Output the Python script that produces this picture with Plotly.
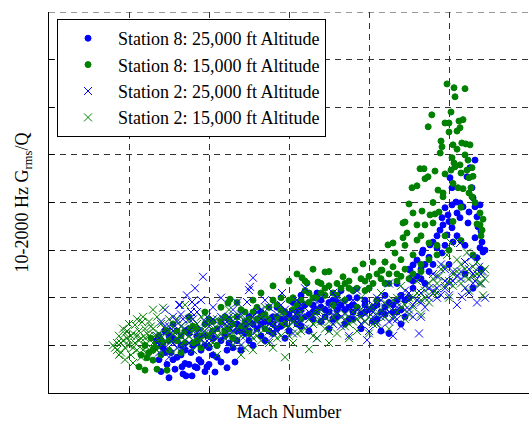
import plotly.graph_objects as go

# Mach number / 10-2000 Hz Grms/Q readings (arbitrary response units)
s8_25k = [
    (0.27,1.1),(0.275,0.7),(0.28,0.45),(0.285,0.95),(0.29,1.3),(0.295,0.6),(0.30,0.32),(0.305,0.85),
    (0.31,1.15),(0.315,0.5),(0.32,0.75),(0.33,1.0),(0.335,0.4),(0.3325,0.55),(0.34,0.62),(0.3425,0.36),
    (0.35,1.25),(0.355,0.85),(0.3575,0.36),(0.365,0.55),(0.37,1.05),(0.37,0.53),(0.375,0.7),(0.38,0.9),
    (0.39,0.45),(0.395,1.2),(0.395,0.55),(0.40,0.6),(0.41,0.8),(0.415,0.44),(0.42,1.0),(0.43,0.65),
    (0.44,1.3),(0.445,0.53),(0.445,0.9),(0.465,0.65),(0.46,1.15),(0.47,1.45),(0.48,0.9),(0.49,1.25),
    (0.50,1.6),(0.51,1.0),(0.52,1.35),(0.53,1.7),(0.54,1.1),(0.55,1.5),(0.56,1.25),(0.57,1.8),
    (0.58,1.4),(0.59,1.15),(0.60,1.65),(0.61,1.9),(0.62,1.45),(0.63,2.05),(0.64,1.6),(0.65,1.3),
    (0.66,1.85),(0.67,2.1),(0.68,1.5),(0.69,1.75),(0.70,1.35),(0.71,1.95),(0.72,1.6),(0.73,2.15),
    (0.74,1.45),(0.75,1.8),(0.76,1.55),(0.77,2.0),(0.78,1.35),(0.79,1.7),(0.80,2.2),(0.81,1.5),
    (0.82,1.85),(0.83,1.3),(0.84,2.05),(0.85,1.25),(0.86,1.7),(0.87,2.3),(0.88,1.45),(0.89,1.95),
    (0.90,2.6),(0.9025,2.58),(0.91,2.69),(0.92,2.79),(0.9325,2.94),(0.935,3.00),(0.9525,3.11),(0.96,3.17),
    (0.97,3.05),(0.9825,2.94),(0.9775,3.42),(0.985,3.53),(0.9825,3.68),(0.9975,3.74),(0.99,3.89),(0.995,3.32),
    (1.0075,3.47),(1.01,3.17),(1.02,3.78),(1.0275,3.68),(1.0075,3.95),(1.0175,4.01),(1.0275,3.99),(1.035,3.91),
    (1.0075,4.31),(1.0025,4.52),(1.045,4.54),(1.0525,4.73),(1.065,4.89),(1.0575,4.31),(1.0475,3.57),(1.065,3.91),
    (1.0775,3.95),(1.0725,3.49),(1.065,3.26),(1.0825,3.17),(1.0775,3.05),(1.085,2.96),(1.07,2.84),(0.94,2.3),
    (0.95,2.55),(1.0,2.7),(1.04,2.5),(1.06,2.2),(1.08,2.6),
    (0.29,0.85),(0.31,0.7),(0.33,0.8),(0.35,0.6),(0.36,1.0),(0.38,0.65),(0.40,0.95),(0.42,0.75),
    (0.43,1.1),(0.45,1.05),(0.47,1.1),(0.48,1.3),(0.50,1.1),(0.51,1.45),(0.53,1.2),(0.54,1.5),
    (0.56,1.6),(0.57,1.35),(0.59,1.55),(0.60,1.3),(0.62,1.7),(0.63,1.4),(0.64,1.85),(0.66,1.55),
    (0.67,1.75),(0.68,1.95),(0.70,1.7),(0.71,1.55),(0.72,1.9),(0.74,1.75),(0.75,1.55),(0.76,1.85),
    (0.78,1.65),(0.79,1.95),(0.81,1.8),(0.82,1.55),(0.84,1.65),(0.85,1.9),(0.87,1.7),(0.88,2.05),
    (0.89,1.6),(0.91,2.2),(0.92,2.45),(0.93,2.6),(0.95,2.85),(0.96,2.7),(0.97,3.3),(0.99,3.1),
    (1.0,3.6),(1.02,3.3),(1.04,3.1),(1.05,3.8),(1.06,4.1),(1.07,3.7),(1.08,3.4),(1.09,3.0),
    (0.28,1.0),(0.30,1.2),(0.32,1.1),(0.34,0.9),(0.37,1.2),(0.39,1.0),(0.41,1.15),(0.44,1.2),
    (0.46,0.95),(0.47,1.3),(0.49,1.4),(0.50,1.3),(0.52,1.55),(0.53,1.45),(0.55,1.3),(0.56,1.45),
    (0.58,1.55),(0.59,1.7),(0.61,1.55),(0.62,1.6),(0.63,1.75),(0.65,1.65),(0.66,1.7),(0.68,1.8),
    (0.69,1.6),(0.70,1.9),(0.72,1.75),(0.73,1.85),(0.75,2.0),(0.76,1.7),(0.77,1.8),(0.79,1.85),
    (0.80,1.75),(0.82,1.95),(0.83,1.7),(0.84,1.8),(0.86,1.85),(0.87,1.95),(0.88,1.75),(0.90,2.0),
    (0.91,2.35),(0.93,2.4),(0.94,2.7),
]

s8_15k = [
    (0.225,0.55),(0.23,0.8),(0.24,0.48),(0.24,1.0),(0.245,0.74),(0.25,0.85),(0.255,1.15),(0.26,0.69),
    (0.265,0.95),(0.27,0.5),(0.275,1.2),(0.28,0.8),(0.285,1.05),(0.295,0.48),(0.295,1.3),(0.30,0.9),
    (0.31,1.45),(0.32,1.1),(0.33,0.85),(0.34,1.3),(0.35,1.6),(0.36,1.05),(0.37,1.35),(0.38,0.95),
    (0.39,1.7),(0.40,1.2),(0.41,1.5),(0.42,1.0),(0.43,1.8),(0.44,1.3),(0.4475,1.89),(0.4525,1.97),
    (0.45,1.55),(0.46,1.15),(0.47,1.9),(0.48,1.4),(0.49,1.7),(0.50,1.25),(0.51,1.95),(0.52,1.55),
    (0.53,2.1),(0.54,1.35),(0.55,1.8),(0.56,2.25),(0.57,1.6),(0.58,2.0),(0.59,1.45),(0.60,2.35),
    (0.61,1.75),(0.62,2.5),(0.6325,2.42),(0.645,2.31),(0.63,1.55),(0.64,2.15),(0.65,1.9),(0.66,2.6),
    (0.6725,2.33),(0.67,1.7),(0.68,2.3),(0.69,2.54),(0.69,2.05),(0.70,2.55),(0.71,1.85),(0.72,2.3),
    (0.735,2.44),(0.74,1.95),(0.75,2.2),(0.765,2.58),(0.77,1.8),(0.785,2.71),(0.79,2.15),(0.80,2.45),
    (0.81,2.75),(0.82,1.95),(0.83,2.58),(0.84,2.75),(0.85,2.3),(0.8475,3.11),(0.86,3.15),(0.865,2.94),
    (0.84,2.75),(0.8325,2.58),(0.87,2.5),(0.88,2.8),(0.885,3.26),(0.885,3.57),(0.89,3.59),(0.895,3.36),
    (0.90,3.97),(0.90,2.4),(0.9075,4.31),(0.91,3.78),(0.92,4.35),(0.92,3.53),(0.92,3.21),(0.9275,4.71),
    (0.93,2.7),(0.9325,3.82),(0.9375,4.71),(0.94,4.50),(0.94,3.53),(0.9475,4.54),(0.948,5.59),(0.9525,3.74),
    (0.957,5.84),(0.96,3.57),(0.965,4.66),(0.965,3.76),(0.97,2.9),(0.9725,4.26),(0.978,5.04),(0.98,5.29),
    (0.9825,5.17),(0.985,4.20),(0.985,4.12),(0.99,5.67),(0.995,6.49),(1.0,5.67),(1.0,5.48),(1.0,3.0),
    (1.005,5.90),(1.005,4.68),(1.0075,4.94),(1.01,5.21),(1.0125,6.41),(1.0125,4.83),(1.015,6.22),(1.015,4.75),
    (1.02,5.12),(1.0225,4.31),(1.025,5.71),(1.0275,5.57),(1.0275,4.79),(1.03,4.62),(1.03,3.2),(1.032,5.25),
    (1.035,5.74),(1.035,4.29),(1.04,6.39),(1.042,5.23),(1.045,4.68),(1.0475,4.89),(1.05,4.52),(1.0525,5.21),
    (1.055,4.31),(1.0575,4.73),(1.0575,4.12),(1.06,2.9),(1.0775,3.78),(1.0775,3.53),(1.0825,3.42),(1.08,3.3),
    (0.32,1.3),(0.34,1.05),(0.36,1.4),(0.38,1.2),(0.40,1.55),(0.42,1.35),(0.44,1.6),(0.46,1.45),
    (0.48,1.75),(0.50,1.55),(0.52,1.8),(0.54,1.65),(0.56,1.95),(0.58,1.75),(0.60,1.95),(0.62,1.85),
    (0.64,2.35),(0.66,2.0),(0.68,2.1),(0.70,2.25),(0.72,2.05),(0.74,2.3),(0.76,2.15),(0.78,2.4),
    (0.80,2.2),(0.82,2.5),(0.84,2.3),(0.86,2.65),(0.88,2.45),(0.89,3.1),(0.91,2.9),(0.93,3.3),
    (0.95,3.15),(0.96,4.0),(0.975,3.8),(0.99,4.6),(1.01,4.4),(1.02,5.5),(1.04,5.0),(1.06,4.55),
    (1.065,4.0),(1.07,3.55),(1.085,3.65),
    (0.26,0.9),(0.28,1.1),(0.30,1.1),(0.33,1.2),(0.35,1.35),(0.37,1.1),(0.39,1.45),(0.41,1.3),
    (0.43,1.5),(0.45,1.35),(0.47,1.6),(0.49,1.5),(0.51,1.7),(0.53,1.6),(0.55,1.55),(0.57,1.85),
    (0.59,1.7),(0.61,2.0),(0.63,1.95),(0.65,2.1),(0.67,2.0),(0.69,2.2),(0.71,2.1),(0.73,2.2),
    (0.75,2.35),(0.77,2.2),(0.79,2.35),(0.81,2.3),(0.83,2.4),(0.85,2.5),(0.87,2.35),(0.89,2.6),
    (0.91,2.5),(0.93,2.55),(0.95,2.8),(0.97,3.1),(0.99,3.3),(1.01,3.6),(1.03,3.9),(1.05,4.2),
]

s2_25k = [
    (0.27,1.2),(0.275,0.85),(0.28,1.5),(0.285,1.0),(0.29,1.75),(0.295,1.3),(0.30,0.75),(0.305,1.1),
    (0.31,1.6),(0.315,1.4),(0.32,0.95),(0.325,1.85),(0.3275,1.85),(0.33,1.2),(0.335,1.55),(0.34,1.0),
    (0.345,2.05),(0.35,1.3),(0.355,1.7),(0.3575,1.91),(0.36,0.9),(0.365,2.2),(0.365,1.85),(0.37,1.45),
    (0.375,1.15),(0.38,1.95),(0.385,2.44),(0.39,1.25),(0.395,1.6),(0.40,1.05),(0.41,1.8),(0.42,1.35),
    (0.43,2.0),(0.44,1.15),(0.45,1.6),(0.46,1.3),(0.47,1.9),(0.48,1.0),(0.49,1.5),(0.495,1.91),
    (0.50,2.16),(0.5025,2.23),(0.51,2.42),(0.505,1.2),(0.52,1.7),(0.53,1.4),(0.54,1.95),(0.55,1.1),
    (0.56,1.55),(0.57,1.3),(0.58,1.85),(0.5825,2.10),(0.59,1.45),(0.60,1.65),(0.61,1.25),(0.62,1.95),
    (0.63,1.5),(0.64,2.2),(0.65,1.35),(0.66,1.75),(0.67,1.15),(0.68,2.0),(0.69,1.6),(0.70,1.3),
    (0.71,2.1),(0.72,1.7),(0.73,1.4),(0.74,1.9),(0.75,1.2),(0.76,1.65),(0.77,2.15),(0.78,1.45),
    (0.79,1.85),(0.795,1.11),(0.80,1.3),(0.81,1.6),(0.82,2.0),(0.83,1.35),(0.84,1.8),(0.85,2.3),
    (0.86,1.2),(0.86,1.55),(0.87,1.9),(0.88,1.4),(0.89,2.15),(0.90,1.75),(0.91,2.4),(0.92,1.95),
    (0.925,1.25),(0.93,1.6),(0.94,2.25),(0.95,2.0),(0.96,2.5),(0.97,2.2),(0.98,2.7),(0.98,2.06),
    (0.99,2.35),(1.00,2.05),(1.01,2.55),(1.02,1.85),(1.0275,3.15),(1.03,2.4),(1.0325,2.02),(1.04,2.75),
    (1.05,2.1),(1.055,2.85),(1.06,2.5),(1.07,1.9),(1.075,2.65),(1.08,2.3),(1.09,2.0),
    (0.28,1.2),(0.29,0.95),(0.30,1.4),(0.31,1.05),(0.32,1.5),(0.33,1.65),(0.34,1.35),(0.35,1.05),
    (0.36,1.55),(0.37,1.7),(0.38,1.35),(0.39,1.05),(0.40,1.4),(0.41,1.55),(0.42,1.15),(0.43,1.6),
    (0.44,1.45),(0.45,1.25),(0.46,1.75),(0.47,1.4),(0.48,1.65),(0.49,1.2),(0.50,1.45),(0.52,1.35),
    (0.53,1.75),(0.54,1.5),(0.55,1.8),(0.56,1.3),(0.57,1.65),(0.59,1.75),(0.60,1.4),(0.61,1.7),
    (0.62,1.55),(0.63,1.85),(0.65,1.7),(0.66,1.45),(0.67,1.9),(0.68,1.55),(0.70,1.8),(0.71,1.45),
    (0.72,2.0),(0.73,1.75),(0.75,1.6),(0.76,1.95),(0.78,1.7),(0.79,1.5),(0.81,1.85),(0.82,1.5),
    (0.83,1.95),(0.85,1.7),(0.87,1.55),(0.88,2.0),(0.90,2.1),(0.91,1.6),(0.93,2.1),(0.94,1.8),
    (0.96,2.15),(0.97,2.45),(0.99,2.6),(1.00,2.3),(1.02,2.45),(1.04,2.2),(1.05,2.6),(1.065,2.35),
    (1.085,2.55),
    (0.29,1.4),(0.31,1.3),(0.33,1.4),(0.35,1.55),(0.37,1.25),(0.39,1.5),(0.41,1.25),(0.43,1.4),
    (0.45,1.45),(0.47,1.6),(0.49,1.35),(0.51,1.6),(0.53,1.55),(0.55,1.45),(0.57,1.5),(0.59,1.6),
    (0.61,1.5),(0.63,1.65),(0.65,1.55),(0.67,1.7),(0.69,1.8),(0.71,1.65),(0.73,1.6),(0.75,1.8),
    (0.77,1.75),(0.79,1.65),(0.81,1.7),(0.83,1.6),(0.85,1.5),(0.87,1.8),(0.89,1.75),(0.91,1.85),
    (0.93,1.9),(0.95,2.2),(0.97,2.0),(0.99,2.2),(1.01,2.35),(1.03,2.55),(1.06,2.3),(1.08,2.5),
]

s2_15k = [
    (0.16,1.0),(0.165,0.95),(0.17,1.05),(0.175,1.2),(0.18,0.85),(0.18,1.05),(0.185,1.35),(0.19,0.95),
    (0.19,0.7),(0.195,1.15),(0.20,1.0),(0.20,1.45),(0.205,0.8),(0.21,1.25),(0.21,0.63),(0.215,1.43),
    (0.215,1.05),(0.22,1.55),(0.22,0.9),(0.225,1.3),(0.23,0.75),(0.23,1.15),(0.2325,1.49),(0.235,1.6),
    (0.24,1.0),(0.24,1.35),(0.245,0.85),(0.25,1.5),(0.25,1.2),(0.255,0.95),(0.26,1.75),(0.26,1.35),
    (0.265,1.05),(0.27,1.6),(0.27,0.9),(0.275,1.25),(0.28,1.45),(0.285,1.79),(0.29,1.1),(0.30,1.55),
    (0.31,0.85),(0.32,1.3),(0.33,1.0),(0.34,1.85),(0.35,1.2),(0.36,0.9),(0.37,1.45),(0.38,1.1),
    (0.39,1.65),(0.40,1.0),(0.41,1.3),(0.42,0.8),(0.43,1.5),(0.44,1.15),(0.45,1.75),(0.46,1.0),
    (0.47,1.35),(0.48,0.8),(0.48,1.6),(0.49,0.95),(0.50,1.25),(0.51,0.9),(0.52,1.5),(0.53,1.1),
    (0.54,1.8),(0.55,1.3),(0.56,0.95),(0.57,1.55),(0.58,1.2),(0.59,0.75),(0.60,1.4),(0.61,1.05),
    (0.62,1.65),(0.63,1.3),(0.64,1.9),(0.65,0.92),(0.66,1.45),(0.67,1.15),(0.68,1.75),(0.69,1.35),
    (0.70,1.05),(0.71,1.6),(0.72,1.25),(0.73,1.95),(0.74,1.4),(0.75,1.15),(0.76,1.7),(0.77,1.3),
    (0.78,2.0),(0.79,1.5),(0.80,1.25),(0.81,1.8),(0.82,1.45),(0.83,2.1),(0.84,1.6),(0.85,1.35),
    (0.86,1.95),(0.87,1.7),(0.88,2.25),(0.89,1.55),(0.90,2.0),(0.91,1.8),(0.92,2.35),(0.93,1.65),
    (0.94,2.15),(0.95,1.9),(0.96,2.4),(0.97,2.1),(0.98,2.6),(0.99,2.25),(0.995,2.9),(1.00,2.0),
    (1.005,3.15),(1.01,2.5),(1.02,2.8),(1.03,2.3),(1.04,2.6),(1.045,2.95),(1.05,2.15),(1.06,2.45),
    (1.07,2.75),(1.075,2.3),(1.08,2.55),(1.085,2.05),(1.09,2.4),
    (0.175,0.8),(0.185,1.1),(0.195,1.3),(0.205,1.2),(0.21,0.95),(0.225,1.1),(0.235,0.9),(0.245,1.25),
    (0.255,1.4),(0.265,1.2),(0.275,0.95),(0.29,1.35),(0.30,1.15),(0.31,1.25),(0.32,1.55),(0.33,1.4),
    (0.34,1.1),(0.35,1.5),(0.36,1.3),(0.37,1.15),(0.38,1.6),(0.39,1.3),(0.40,1.45),(0.41,1.05),
    (0.42,1.55),(0.43,1.25),(0.44,1.4),(0.45,1.2),(0.46,1.6),(0.47,1.1),(0.49,1.35),(0.50,1.5),
    (0.51,1.15),(0.52,1.3),(0.53,1.6),(0.55,1.05),(0.56,1.45),(0.57,1.15),(0.58,1.65),(0.60,1.2),
    (0.61,1.5),(0.62,1.25),(0.63,1.7),(0.65,1.55),(0.66,1.2),(0.67,1.5),(0.69,1.6),(0.70,1.3),
    (0.71,1.8),(0.72,1.5),(0.74,1.65),(0.75,1.45),(0.77,1.55),(0.78,1.75),(0.80,1.6),(0.81,1.45),
    (0.83,1.75),(0.84,1.9),(0.86,1.6),(0.87,2.0),(0.89,1.85),(0.90,1.65),(0.92,2.1),(0.93,1.95),
    (0.95,2.3),(0.96,2.1),(0.975,2.45),(0.99,2.65),(1.0,2.35),(1.02,2.55),(1.03,2.7),(1.05,2.4),
    (1.06,2.65),(1.08,2.3),(1.09,2.6),
    (0.17,0.9),(0.19,1.25),(0.20,1.1),(0.22,1.2),(0.24,1.15),(0.26,1.05),(0.28,1.15),(0.30,1.3),
    (0.32,1.15),(0.34,1.25),(0.36,1.1),(0.38,1.3),(0.40,1.2),(0.42,1.2),(0.44,1.3),(0.46,1.25),
    (0.48,1.2),(0.50,1.4),(0.52,1.2),(0.54,1.35),(0.56,1.25),(0.58,1.45),(0.60,1.55),(0.62,1.45),
    (0.64,1.35),(0.66,1.65),(0.68,1.5),(0.70,1.5),(0.72,1.65),(0.74,1.55),(0.76,1.5),(0.78,1.6),
    (0.80,1.8),(0.82,1.65),(0.85,1.8),(0.88,1.8),(0.91,2.0),(0.94,2.0),(0.97,2.3),(1.01,2.25),
    (1.04,2.45),(1.07,2.5),
]

series = [
    ("Station 8: 25,000 ft Altitude", s8_25k, "#0000FF", "circle", 6),
    ("Station 8: 15,000 ft Altitude", s8_15k, "#008000", "circle", 6),
    ("Station 2: 25,000 ft Altitude", s2_25k, "#0000FF", "x-thin", 8),
    ("Station 2: 15,000 ft Altitude", s2_15k, "#008000", "x-thin", 8),
]

fig = go.Figure()
for name, pts, color, sym, size in series:
    xs = [p[0] for p in pts]
    ys = [p[1] for p in pts]
    fig.add_trace(go.Scatter(
        x=xs, y=ys, mode="markers", name=name,
        marker=dict(color=color, symbol=sym, size=size,
                    line=dict(color=color, width=1)),
    ))

font = dict(family="Liberation Serif", size=18, color="black")
grid_color = "#333333"
grid_dash = "6px,5px"

# dashed gridline along the top edge of the plot (y = 8)
fig.add_shape(type="line", xref="x", yref="y", x0=0, x1=1.2, y0=8, y1=8,
              line=dict(color=grid_color, width=1, dash=grid_dash), layer="below")

fig.update_layout(
    width=529, height=423,
    margin=dict(l=49, r=0, t=12, b=30),
    paper_bgcolor="white", plot_bgcolor="white",
    font=font,
    showlegend=True,
    legend=dict(x=0.0167, y=0.9816, xanchor="left", yanchor="top",
                bgcolor="white", bordercolor="black", borderwidth=1,
                itemwidth=50, font=font, tracegroupgap=0),
    xaxis=dict(range=[0, 1.2], tickvals=[0.2, 0.4, 0.6, 0.8, 1.0], showticklabels=False,
               ticks="inside", ticklen=5, tickcolor="black",
               showgrid=True, gridcolor=grid_color, griddash=grid_dash, gridwidth=1,
               showline=True, linecolor="black", linewidth=1, zeroline=False,
               title=dict(text="Mach Number", font=font, standoff=12)),
    yaxis=dict(range=[0, 8], tickvals=[1, 2, 3, 4, 5, 6, 7], showticklabels=False,
               ticks="inside", ticklen=5, tickcolor="black",
               showgrid=True, gridcolor=grid_color, griddash=grid_dash, gridwidth=1,
               showline=True, linecolor="black", linewidth=1, zeroline=False,
               title=dict(text="10-2000 Hz G<sub>rms</sub>/Q", font=font, standoff=14)),
)
fig.write_html("out.html")
